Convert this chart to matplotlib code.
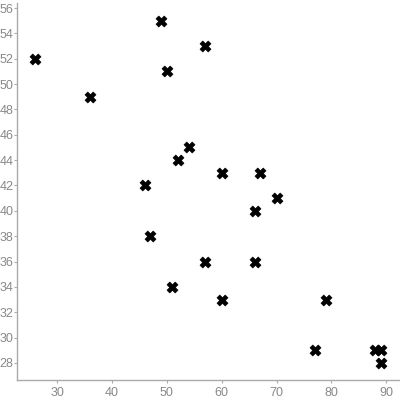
import matplotlib
matplotlib.use("Agg")
import matplotlib.pyplot as plt

plt.rcParams['font.family'] = ['Liberation Sans', 'DejaVu Sans']

x_vals = [26, 36, 49, 50, 57, 54, 52, 46, 60, 67, 66, 70, 47, 57, 66, 51, 60, 79, 77, 88, 89, 89]
y_vals = [52, 49, 55, 51, 53, 45, 44, 42, 43, 43, 40, 41, 38, 36, 36, 34, 33, 33, 29, 29, 29, 28]
x_ticks = [30, 40, 50, 60, 70, 80, 90]
y_ticks = list(range(28, 57, 2))

fig = plt.figure(figsize=(4, 4), dpi=100)
ax = fig.add_axes([0.0425, 0.05, 0.955, 0.9425])
ax.scatter(x_vals, y_vals, marker='X', s=62, c='black', edgecolors='black', linewidths=0.5, zorder=3)
ax.set_xlim(22.7, 92.3)
ax.set_ylim(26.65, 56.4)
ax.set_xticks(x_ticks)
ax.set_yticks(y_ticks)
for s in ['top', 'right']:
    ax.spines[s].set_visible(False)
for s in ['left', 'bottom']:
    ax.spines[s].set_color('#aaaaaa')
    ax.spines[s].set_linewidth(1)
ax.tick_params(colors='#aaaaaa', labelcolor='#888888', labelsize=9, length=2, pad=0.5)
ax.tick_params(axis='x', pad=3)
fig.savefig('out.png', dpi=100)
